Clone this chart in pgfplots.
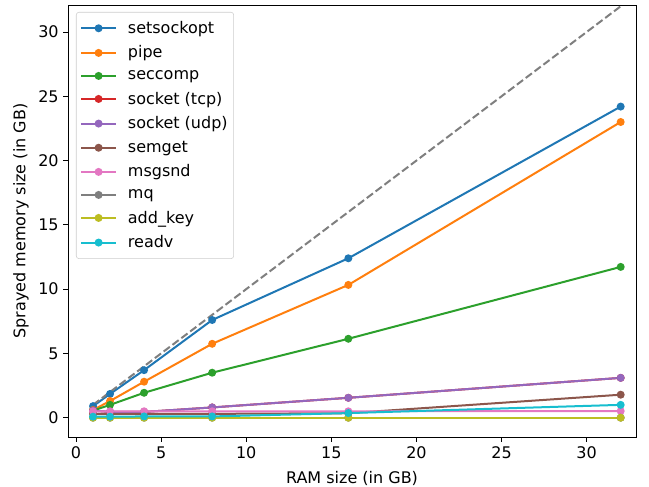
\documentclass[border=0pt]{standalone}
\usepackage{pgfplots}
\pgfplotsset{compat=1.18}
\usepackage{fontspec}
\setmainfont{DejaVu Sans}
\definecolor{c0}{HTML}{1F77B4}
\definecolor{c1}{HTML}{FF7F0E}
\definecolor{c2}{HTML}{2CA02C}
\definecolor{c3}{HTML}{D62728}
\definecolor{c4}{HTML}{9467BD}
\definecolor{c5}{HTML}{8C564B}
\definecolor{c6}{HTML}{E377C2}
\definecolor{c7}{HTML}{7F7F7F}
\definecolor{c8}{HTML}{BCBD22}
\definecolor{c9}{HTML}{17BECF}
\begin{document}
\begin{tikzpicture}
\begin{axis}[
  at={(0,0)}, anchor=south west,
  scale only axis, width=426pt, height=324pt,
  xmin=-0.47, xmax=32.9, ymin=-1.5, ymax=32.1,
  xtick={0,5,10,15,20,25,30}, ytick={0,5,10,15,20,25,30},
  xtick pos=bottom, ytick pos=left,
  /pgf/number format/assume math mode=true,
  tick label style={font=\fontsize{12}{14}\selectfont},
  label style={font=\fontsize{12}{14}\selectfont},
  xlabel={RAM size (in GB)}, ylabel={Sprayed memory size (in GB)},
  xlabel style={at={(axis description cs:0.5,-0.0949)}, anchor=center},
  ylabel style={at={(axis description cs:-0.0827,0.5)}, anchor=center},
  tick align=outside, tick style={black, line width=0.6pt}, major tick length=3.5pt,
  axis line style={line width=0.6pt},
  every axis plot/.append style={line width=1.5pt, mark=*, mark size=2.2pt},
  legend style={font=\fontsize{12}{14}\selectfont, draw=black!20, rounded corners=2pt,
    at={(6pt,318.75pt)}, anchor=north west, row sep=4.85pt, inner xsep=3pt, inner ysep=5.2pt,
    nodes={inner sep=1.5pt}, column sep=6.75pt},
  legend cell align=left,
  legend image code/.code={\draw[mark repeat=2,mark phase=2] plot coordinates {(0pt,0pt) (13pt,0pt) (26pt,0pt)};},
]
\addplot[c0] coordinates {(1,0.9) (2,1.85) (4,3.7) (8,7.6) (16,12.4) (32,24.2)};
\addlegendentry{setsockopt}
\addplot[c1] coordinates {(1,0.6) (2,1.3) (4,2.8) (8,5.75) (16,10.33) (32,23.0)};
\addlegendentry{pipe}
\addplot[c2] coordinates {(1,0.55) (2,1.0) (4,1.94) (8,3.5) (16,6.14) (32,11.73)};
\addlegendentry{seccomp}
\addplot[c3] coordinates {(1,0.55) (2,0.45) (4,0.45) (8,0.8) (16,1.55) (32,3.1)};
\addlegendentry{socket (tcp)}
\addplot[c4] coordinates {(1,0.55) (2,0.45) (4,0.45) (8,0.8) (16,1.55) (32,3.1)};
\addlegendentry{socket (udp)}
\addplot[c5] coordinates {(1,0.3) (2,0.3) (4,0.3) (8,0.3) (16,0.35) (32,1.79)};
\addlegendentry{semget}
\addplot[c6] coordinates {(1,0.5) (2,0.5) (4,0.5) (8,0.5) (16,0.5) (32,0.52)};
\addlegendentry{msgsnd}
\addplot[c7] coordinates {(1,0) (2,0) (4,0) (8,0) (16,0) (32,0)};
\addlegendentry{mq}
\addplot[c8] coordinates {(1,0) (2,0) (4,0) (8,0) (16,0) (32,0)};
\addlegendentry{add\_key}
\addplot[c9] coordinates {(1,0.08) (2,0.08) (4,0.1) (8,0.1) (16,0.36) (32,1.0)};
\addlegendentry{readv}
\addplot[c7, mark=none, dash pattern=on 5.8pt off 2.5pt, forget plot] coordinates {(1,1) (32,32)};
\end{axis}
\pgfresetboundingbox
\path (-51pt,-36.75pt) rectangle (435.75pt,327.75pt);
\end{tikzpicture}
\end{document}
